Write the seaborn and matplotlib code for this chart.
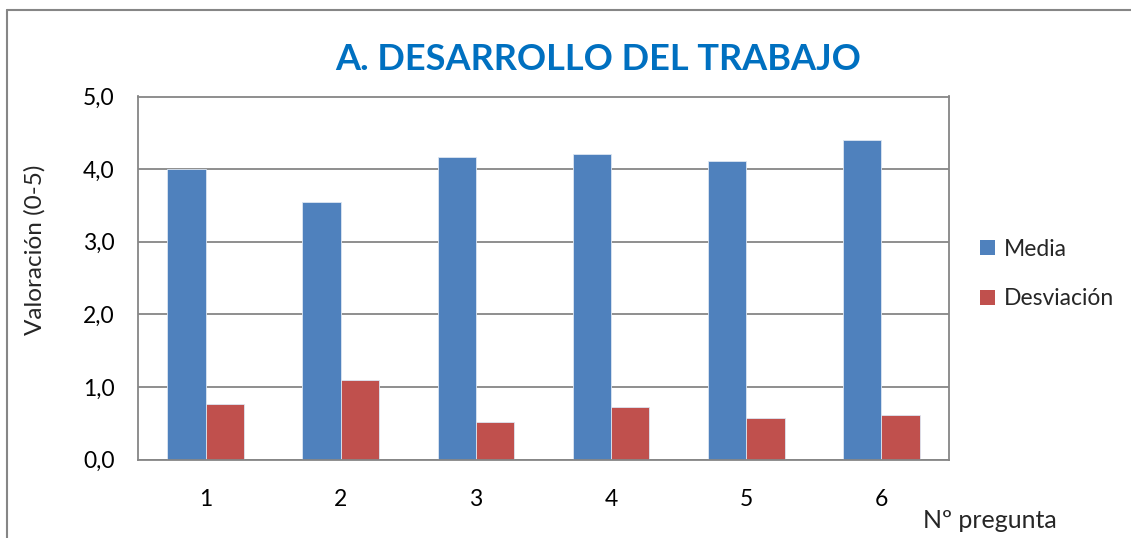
import pandas as pd
import matplotlib.pyplot as plt
import seaborn as sns
from matplotlib.ticker import FixedLocator, FuncFormatter
from matplotlib.patches import Patch
from matplotlib.lines import Line2D

# Datos
preguntas = ["1", "2", "3", "4", "5", "6"]
media = [4.00, 3.55, 4.16, 4.21, 4.11, 4.40]
desviacion = [0.76, 1.09, 0.51, 0.72, 0.57, 0.61]
series = ["Media", "Desviación"]
colores = ["#4F81BD", "#C0504D"]

df = pd.DataFrame({
    "pregunta": preguntas * 2,
    "valor": media + desviacion,
    "serie": [series[0]] * len(preguntas) + [series[1]] * len(preguntas),
})

sns.set_style("white")
plt.rcParams['font.family'] = ['Lato', 'DejaVu Sans']

fig = plt.figure(figsize=(11.31, 5.38), dpi=100)
ax = fig.add_axes([138 / 1131, 1 - 459.5 / 538, (949 - 138) / 1131, (459.5 - 96.5) / 538])

sns.barplot(data=df, x="pregunta", y="valor", hue="serie", palette=colores,
            width=0.567, saturation=1, edgecolor="#DCE6F2", linewidth=0.6,
            ax=ax, legend=False)

ax.set_xlim(-0.5, 5.5)
ax.set_ylim(0, 5)
ax.set_yticks([0, 1, 2, 3, 4, 5])
ax.yaxis.set_major_formatter(FuncFormatter(lambda v, p: f"{v:.1f}".replace(".", ",")))
ax.grid(axis="y", color="#868686", linewidth=1.3)
ax.set_axisbelow(True)

gris = "#868686"
for s in ax.spines.values():
    s.set_color(gris)
    s.set_linewidth(1.3)

# ticks del eje x entre categorías
ax.xaxis.set_minor_locator(FixedLocator([i - 0.5 for i in range(len(preguntas) + 1)]))
ax.tick_params(axis="x", which="major", length=0, pad=21, labelsize=16.5)
ax.tick_params(axis="x", which="minor", length=5, width=1.3, color=gris, direction="out")
ax.tick_params(axis="y", length=6, width=1.3, color=gris, direction="out", pad=11, labelsize=16.5)
ax.tick_params(axis="both", labelcolor="black")

ax.set_xlabel("")
ax.set_ylabel("")
fig.text(35 / 1131, 1 - 250 / 538, "Valoración (0-5)", rotation=90, fontsize=17.5,
         ha="center", va="center")
fig.text(1057 / 1131, 1 - 521 / 538, "Nº pregunta", fontsize=18, ha="right", va="center")

fig.text(598 / 1131, 1 - 59 / 538, "A. DESARROLLO DEL TRABAJO", fontsize=26,
         fontweight="bold", color="#0070C0", ha="center", va="center")

handles = [Patch(facecolor=c, edgecolor="none") for c in colores]
fig.legend(handles, series, loc="center left", bbox_to_anchor=(978 / 1131, 1 - 274 / 538),
           frameon=False, fontsize=16.5, handlelength=0.65, handleheight=0.65,
           handletextpad=0.4, labelspacing=1.25, borderpad=0.1, borderaxespad=0)

# marco exterior
x0, y0 = 7 / 1131, 1 - 10 / 538
fig.add_artist(Line2D([x0, x0], [0, y0], transform=fig.transFigure, color=gris, linewidth=1.5))
fig.add_artist(Line2D([x0, 1], [y0, y0], transform=fig.transFigure, color=gris, linewidth=1.5))

fig.savefig("out.png", dpi=100)
